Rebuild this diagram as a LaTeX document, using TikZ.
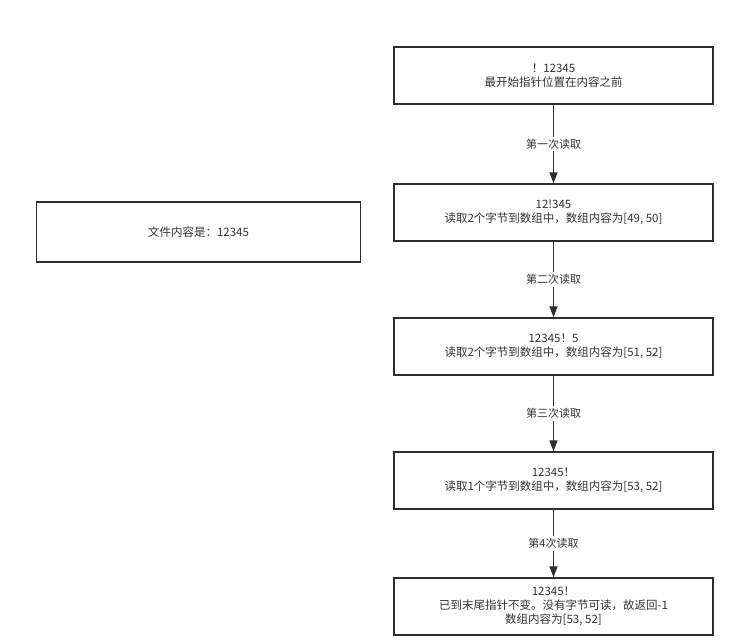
\documentclass[tikz,border=0pt]{standalone}
\usepackage{fontspec}
\setmainfont{Noto Sans CJK SC}
\usetikzlibrary{arrows.meta}
\definecolor{txt}{HTML}{333333}
\definecolor{edge}{HTML}{2E2E2E}
\tikzset{
  stepbox/.style={draw=edge, line width=1.4pt, fill=white, minimum width=319pt, minimum height=57pt, inner sep=0pt, align=center, text=txt, font=\fontsize{11.5}{14}\selectfont},
  flowarrow/.style={draw=edge, line width=1.3pt, -{Triangle[length=11pt,width=8pt]}},
  steplabel/.style={fill=white, text=txt, inner sep=2pt, font=\fontsize{11}{13}\selectfont}
}
\begin{document}
\begin{tikzpicture}[x=1pt,y=-1pt]
\useasboundingbox (0,0) rectangle (744,643);
\fill[white] (0,0) rectangle (744,643);
\node[stepbox] (a) at (553.5,75.5) {！12345\\最开始指针位置在内容之前};
\node[stepbox] (b) at (553.5,212.5) {12!345\\读取2个字节到数组中，数组内容为[49, 50]};
\node[stepbox] (c) at (553.5,346.5) {12345！5\\读取2个字节到数组中，数组内容为[51, 52]};
\node[stepbox] (d) at (553.5,480.5) {12345！\\读取1个字节到数组中，数组内容为[53, 52]};
\node[stepbox] (e) at (553.5,606.5) {12345！\\已到末尾指针不变。没有字节可读，故返回-1\\数组内容为[53, 52]};
\node[stepbox, minimum width=324pt, minimum height=60pt] (f) at (198.5,232) {文件内容是：12345};
\draw[flowarrow] (a) -- node[steplabel] {第一次读取} (b);
\draw[flowarrow] (b) -- node[steplabel] {第二次读取} (c);
\draw[flowarrow] (c) -- node[steplabel] {第三次读取} (d);
\draw[flowarrow] (d) -- node[steplabel] {第4次读取} (e);
\end{tikzpicture}
\end{document}
